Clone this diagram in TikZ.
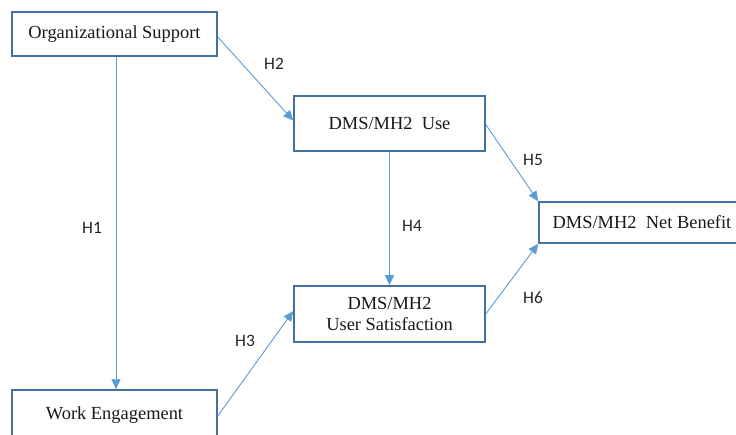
\documentclass[tikz,border=0pt]{standalone}
\usepackage{fontspec}
\setmainfont{Liberation Serif}
\newfontfamily\labfont{Carlito}
\usetikzlibrary{arrows.meta}
\definecolor{boxblue}{HTML}{41719C}
\definecolor{arrblue}{HTML}{5B9BD5}
\tikzset{
  cbox/.style={draw=boxblue, line width=1.5bp, fill=white, inner sep=0pt, align=center,
    font=\fontsize{18.5}{21}\selectfont, text=black!90},
  conn/.style={draw=arrblue, line width=0.9bp, -{Triangle[length=10bp,width=9bp]}},
  hlab/.style={font=\labfont\fontsize{17.5}{19}\selectfont, text=black!85}
}
\begin{document}
\begin{tikzpicture}[x=1bp,y=-1bp]
\useasboundingbox (0,0) rectangle (736,435);
\node[cbox, minimum width=205bp, minimum height=44bp] (org) at (114.5,34) {Organizational Support};
\node[cbox, minimum width=191bp, minimum height=55bp] (use) at (389.5,123.5) {DMS/MH2\ \ Use};
\node[cbox, minimum width=191bp, minimum height=56bp] (us) at (389.5,314) {DMS/MH2\\User Satisfaction};
\node[cbox, minimum width=206bp, minimum height=41bp] (nb) at (642,222.5) {DMS/MH2\ \ Net Benefit};
\node[cbox, minimum width=205bp, minimum height=50bp] (we) at (114.5,415) {Work Engagement};
\draw[conn] ([xshift=1.5bp]org.south) -- ([xshift=1.5bp]we.north);
\draw[conn] ([yshift=-3bp]org.east) -- ([yshift=3bp]use.west);
\draw[conn] ([yshift=-1bp]we.east) -- ([yshift=3bp]us.west);
\draw[conn] (use.south) -- (us.north);
\draw[conn] ([yshift=-1bp]use.east) -- (nb.north west);
\draw[conn] (us.east) -- (nb.south west);
\node[hlab] (h1) at (92,228) {H1};
\node[hlab] (h2) at (274,64) {H2};
\node[hlab] (h3) at (245,341) {H3};
\node[hlab] (h4) at (412,226) {H4};
\node[hlab] (h5) at (533,160) {H5};
\node[hlab] (h6) at (533,298) {H6};
\end{tikzpicture}
\end{document}
